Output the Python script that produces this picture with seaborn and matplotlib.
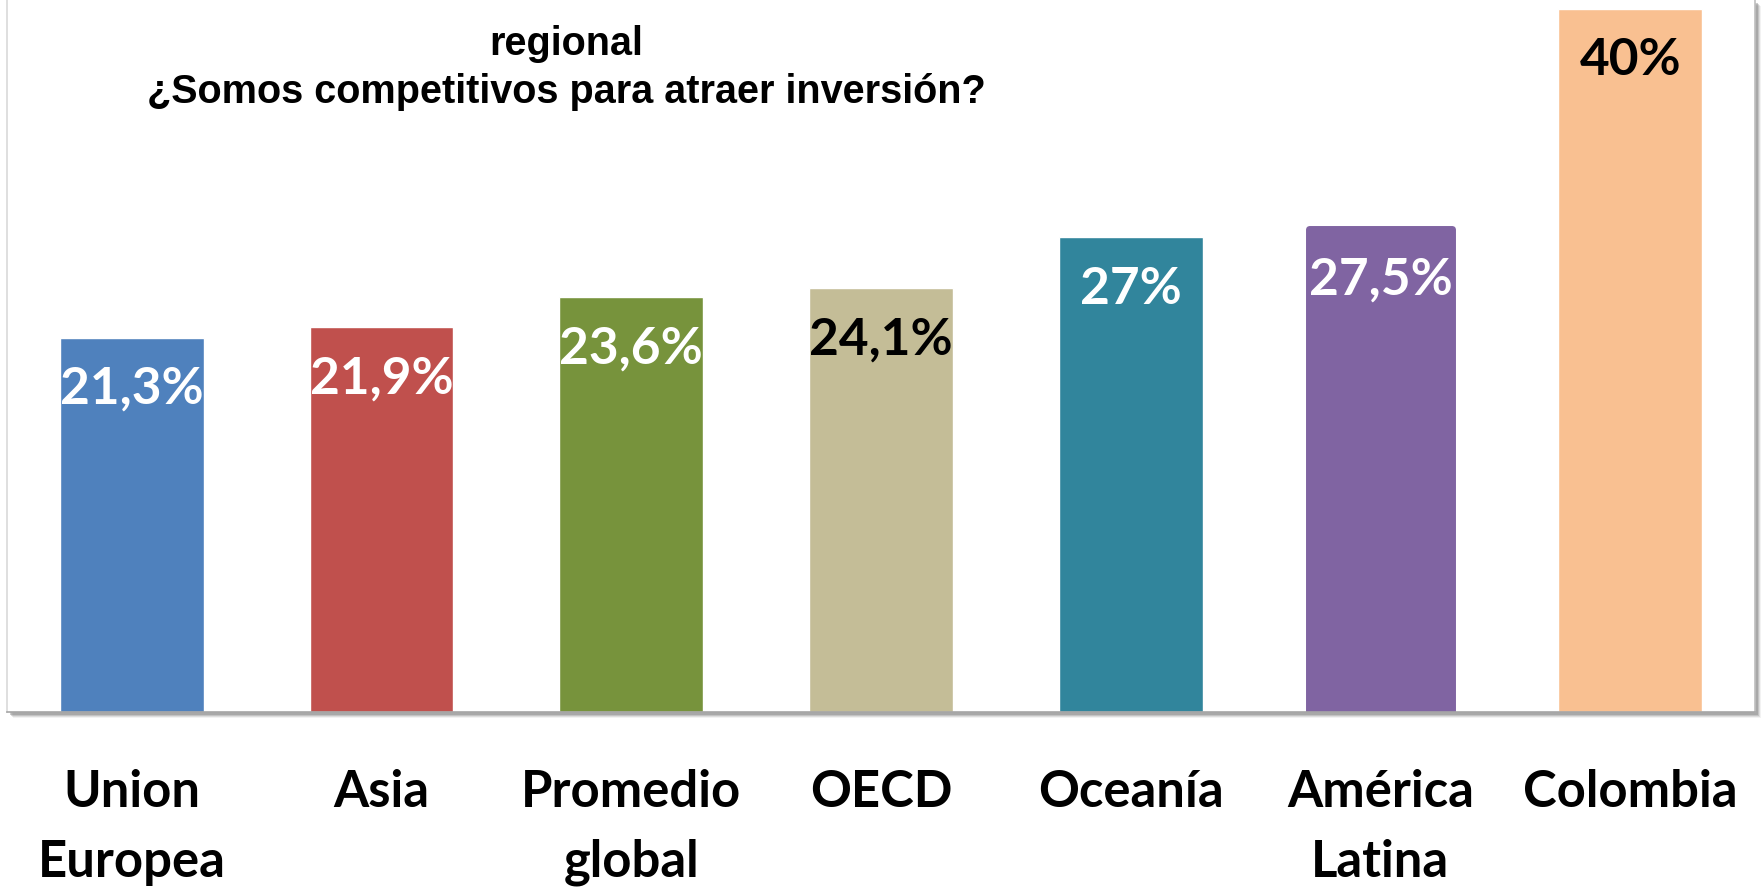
import matplotlib
matplotlib.use("Agg")
import matplotlib.pyplot as plt
import seaborn as sns
import pandas as pd
from matplotlib.patches import Rectangle

# datos del grafico
regiones = ["Union\nEuropea", "Asia", "Promedio\nglobal", "OECD", "Oceanía", "América\nLatina", "Colombia"]
tasas = [21.3, 21.9, 23.6, 24.1, 27.0, 27.5, 40.0]
etiquetas = ["21,3%", "21,9%", "23,6%", "24,1%", "27%", "27,5%", "40%"]
colores = ["#4F81BD", "#C0504D", "#77933C", "#C4BD97", "#31859C", "#8064A2", "#F9C091"]
color_texto = ["white", "white", "white", "black", "white", "white", "black"]

sns.set_style("white")
plt.rcParams['font.family'] = ['Lato', 'DejaVu Sans']
plt.rcParams['text.color'] = 'black'
plt.rcParams['xtick.color'] = 'black'

df = pd.DataFrame({"region": regiones, "tasa": tasas})

W, H = 1765, 889
fig = plt.figure(figsize=(W / 100, H / 100), dpi=100)
ax_left, ax_right, ax_bottom = 7 / W, 1755 / W, 1 - 712 / H
ax = fig.add_axes([ax_left, ax_bottom, ax_right - ax_left, 1 - ax_bottom])

# sombra del marco
for k, a in enumerate([0.10, 0.18, 0.28, 0.40]):
    off = 6 - k
    fig.patches.append(Rectangle((ax_left + off / W, ax_bottom - off / H), ax_right - ax_left, 1 - ax_bottom,
                                 transform=fig.transFigure, facecolor="#808080", alpha=a,
                                 edgecolor="none", zorder=0))
ax.set_zorder(1)
ax.set_facecolor("white")

sns.barplot(data=df, x="region", y="tasa", hue="region", palette=colores, legend=False,
            width=0.575, saturation=1, ax=ax)

# barra seleccionada con esquinas redondeadas
sel = ax.patches[5]
sel.set_edgecolor(colores[5])
sel.set_linewidth(5)
sel.set_joinstyle("round")

for i, (v, t, c) in enumerate(zip(tasas, etiquetas, color_texto)):
    ax.annotate(t, xy=(i, v), xytext=(0, -52), textcoords="offset pixels",
                ha="center", va="center", fontsize=37, fontweight="bold", color=c)

ax.set_ylim(0, 40.5)
ax.set_xlim(-0.5, 6.5)
ax.set_yticks([])
ax.set_xlabel("")
ax.set_ylabel("")
ax.tick_params(axis="x", length=0, pad=41)
for lbl in ax.get_xticklabels():
    lbl.set_fontsize(36.5)
    lbl.set_fontweight("bold")
    lbl.set_linespacing(1.6)
    lbl.set_va("top")

ax.spines["top"].set_visible(False)
ax.spines["left"].set_color("#D9D9D9")
ax.spines["right"].set_color("#BFBFBF")
ax.spines["bottom"].set_color("#A6A6A6")
for s in ["left", "right", "bottom"]:
    ax.spines[s].set_linewidth(1.2)

fig.text(566 / W, 1 - 68 / H, "regional\n¿Somos competitivos para atraer inversión?",
         ha="center", va="center", fontsize=28.5, fontweight="bold", linespacing=1.35,
         color="black", family=["Liberation Sans Narrow", "Liberation Sans"])

fig.savefig("out.png", dpi=100)
